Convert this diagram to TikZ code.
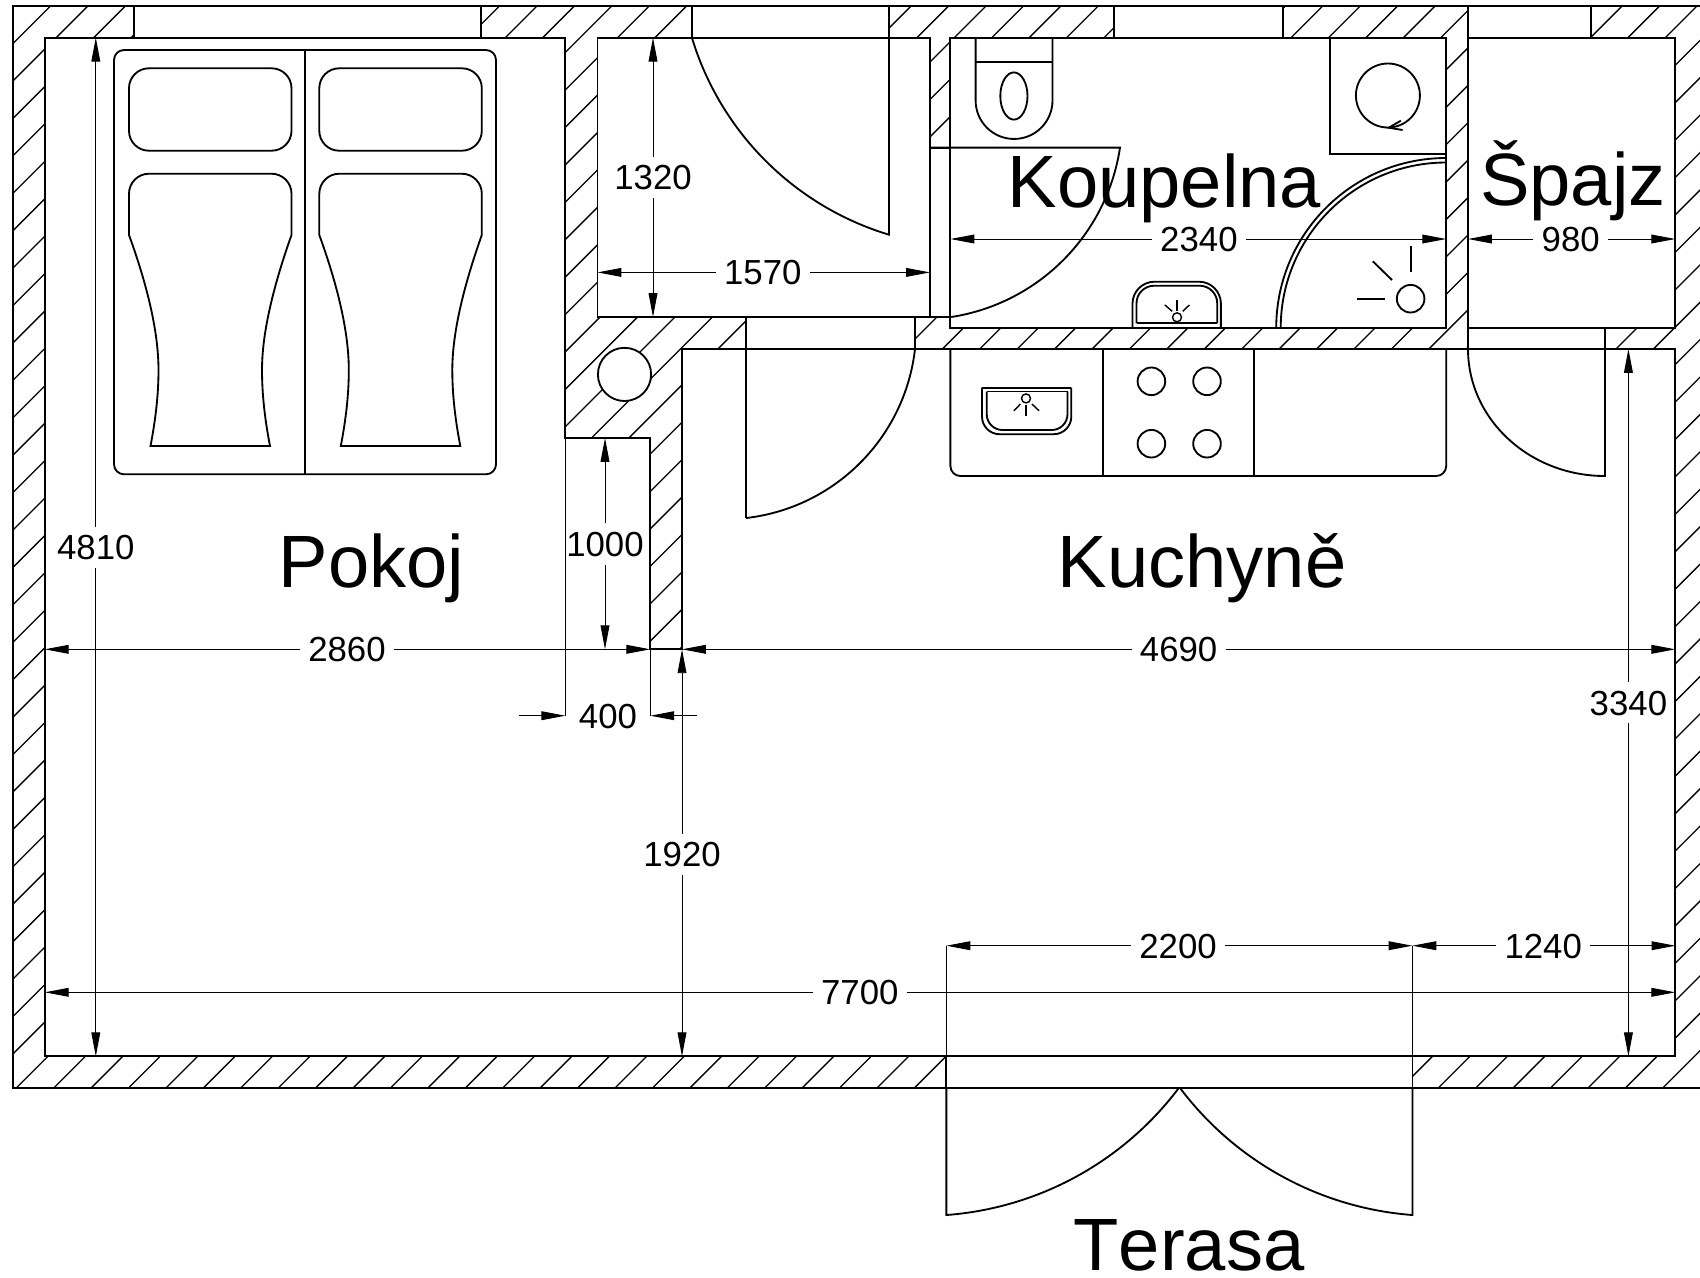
\documentclass[tikz,border=0pt]{standalone}
\usepackage{fontspec}
\setmainfont[Kerning=Off]{Liberation Sans}
\usetikzlibrary{arrows.meta}

\begin{document}
\begin{tikzpicture}[x=0.2mm,y=-0.2mm,line join=miter]
\useasboundingbox (0,0) rectangle (1700,1277);
\tikzset{stena/.style={
           line width=1.05pt,
           }
           }
\tikzset{tenka/.style={
           line width=0.55pt,
           color=black,
           }
           }
\tikzset{pil/.style={
           tenka,
           -{Triangle[length=13.6pt,width=5pt]},
           }
           }
\tikzset{kota/.style={
           font=\fontsize{19.8}{20}\selectfont,
           inner xsep=4.5pt,
           inner ysep=4.5pt,
           text height=14.2pt,
           text depth=0pt,
           }
           }
\tikzset{mistnost/.style={
           font=\fontsize{42.2}{43}\selectfont,
           anchor=base,
           inner sep=0pt,
           }
           }
%==========================================
% hatching of the walls
\begin{scope}
\clip (13,6) rectangle (1710,1088);
\foreach \k in {0,...,75}
  \draw[line width=0.75pt] ({56.5+37.42*\k},0) -- (0,{56.5+37.42*\k});
\end{scope}
\draw[stena] (13,6) rectangle (1710,1088);
%==========================================
% rooms
\draw[stena,fill=white] (44.8,37.7) -- (565.3,37.7) -- (565.3,438) -- (650.3,438) -- (650.3,649.3)
  -- (682,649.3) -- (682,349) -- (1675.3,349) -- (1675.3,1056.3) -- (44.8,1056.3) -- cycle;
\draw[stena,fill=white] (597.5,37.7) rectangle (930,317);
\draw[stena,fill=white] (950.4,37.7) rectangle (1446.2,328);
\draw[stena,fill=white] (1468,37.7) rectangle (1675.3,328);
% windows and openings
\draw[stena,fill=white] (133.6,6) rectangle (481,37.7);
\draw[stena,fill=white] (692,6) rectangle (889,37.7);
\draw[stena,fill=white] (1113.8,6) rectangle (1283.4,37.7);
\draw[stena,fill=white] (1468,6) rectangle (1590.6,37.7);
\draw[stena,fill=white] (930,148) rectangle (950.4,317);
\draw[stena,fill=white] (745.6,317) rectangle (914.8,349);
\draw[stena,fill=white] (1468,328) rectangle (1605,349);
\draw[stena,fill=white] (946.4,1056.3) rectangle (1412.4,1088);
% pipe
\draw[stena,fill=white] (624.5,374.4) circle (26.6);
%==========================================
% doors
\draw[stena] (889,37.7) -- (889,234.7) arc[start angle=106.8,end angle=163.2,radius=295];
\draw[stena] (930,147.6) -- (1120,147.6) arc[start angle=8.6,end angle=81.2,radius=202];
\draw[stena] (745.6,349) -- (745.6,518.2);
\draw[stena] (915,349) arc[start angle=6.5,end angle=83.5,radius=192];
\draw[stena] (1468,349) arc[start angle=180,end angle=90,x radius=137,y radius=127] -- (1605,349);
\draw[stena] (946.4,1088) -- (946.4,1215) arc[start angle=85.7,end angle=37.1,radius=321];
\draw[stena] (1412.4,1088) -- (1412.4,1215) arc[start angle=94.3,end angle=142.9,radius=321];
%==========================================
% bed
\draw[stena,rounded corners=5.7pt] (114,50) rectangle (496,474.3);
\draw[stena] (305.2,50) -- (305.2,474.3);
\foreach \dx in {0,190.3}{
\begin{scope}[shift={(\dx,0)}]
\draw[stena,rounded corners=11.3pt] (129,68.3) rectangle (291.5,150.7);
\draw[stena] (129,235) -- (129,193.7) arc[start angle=180,end angle=270,radius=20]
  -- (271.5,173.7) arc[start angle=270,end angle=360,radius=20] -- (291.5,235)
  .. controls (272,290) and (262,335) .. (262,370)
  .. controls (262,395) and (265,420) .. (270,446)
  -- (150.5,446)
  .. controls (155.5,420) and (158.5,395) .. (158.5,370)
  .. controls (158.5,335) and (149,290) .. (129,235) -- cycle;
\end{scope}
}
%==========================================
% bathroom
\draw[stena] (975.6,37.7) -- (975.6,100.5) arc[start angle=180,end angle=0,radius=38.45] -- (1052.5,37.7);
\draw[stena] (975.6,61.6) -- (1052.5,61.6);
\draw[stena] (1013.9,96) ellipse [x radius=13.6,y radius=23.6];
\draw[stena] (1329.6,37.7) -- (1329.6,154) -- (1446.2,154);
\draw[stena] (1387.9,95.5) circle (32);
\draw[stena] (1400.8,120.7) -- (1388.8,127.7) -- (1402.6,130);
\draw[stena] (1276.2,328) arc[start angle=180,end angle=270,radius=170];
\draw[stena] (1280.7,328) arc[start angle=180,end angle=270,radius=165.5];
\draw[stena] (1410.6,298.7) circle (13.8);
\draw[stena] (1410.6,245.7) -- (1410.6,272);
\draw[stena] (1372.8,261.3) -- (1392,280);
\draw[stena] (1357.2,298.7) -- (1384.5,298.7);
\draw[stena,rounded corners=12.5pt] (1132.5,328) -- (1132.5,281.7) -- (1220.9,281.7) -- (1220.9,328);
\draw[stena,rounded corners=10pt] (1136.5,323.3) -- (1136.5,285.7) -- (1217.2,285.7) -- (1217.2,323.3);
\draw[stena] (1136.5,323.3) -- (1217.2,323.3);
\draw[tenka,line width=0.8pt] (1177,317.3) circle (4.5);
\draw[tenka,line width=0.8pt] (1177,300) -- (1177,310.7);
\draw[tenka,line width=0.8pt] (1164.9,305) -- (1172.2,311.3);
\draw[tenka,line width=0.8pt] (1189.3,305) -- (1182.7,311.3);
%==========================================
% kitchen
\draw[stena,rounded corners=5.7pt] (950.4,349) -- (950.4,476) -- (1446.2,476) -- (1446.2,349);
\draw[stena] (1102.7,349) -- (1102.7,476);
\draw[stena] (1254.3,349) -- (1254.3,476);
\foreach \bx in {1151.4,1207}
  \foreach \by in {381.3,443.7}
    \draw[stena] (\bx,\by) circle (13.8);
\draw[stena,rounded corners=10pt] (982,387.7) -- (982,434.2) -- (1071.3,434.2) -- (1071.3,387.7);
\draw[stena] (982,387.7) -- (1071.3,387.7);
\draw[stena,rounded corners=9pt] (986.7,391.5) -- (986.7,430) -- (1067.5,430) -- (1067.5,391.5);
\draw[stena] (986.7,391.5) -- (1067.5,391.5);
\draw[tenka,line width=0.8pt] (1026,398.4) circle (4.5);
\draw[tenka,line width=0.8pt] (1026,404.6) -- (1026,416);
\draw[tenka,line width=0.8pt] (1020.4,404) -- (1013.9,410.8);
\draw[tenka,line width=0.8pt] (1031.9,404) -- (1039.1,410.8);
%==========================================
% dimensions
\draw[tenka] (565.3,438) -- (565.3,715.7);
\draw[tenka] (650.3,649.3) -- (650.3,715.7);
\draw[tenka] (946.4,945.7) -- (946.4,1056.3);
\draw[tenka] (1412.4,945.7) -- (1412.4,1056.3);
\foreach \name/\xa/\ya/\xb/\yb/\xt/\yt in {
  4810/95.8/37.7/95.8/1056.3/95.8/547.5,
  1320/653/37.7/653/317/653/177.5,
  1570/597.5/272.4/930/272.4/762.8/272.4,
  2340/950.4/239/1446.2/239/1198.9/239,
  980/1468/239/1675.3/239/1570.7/239,
  1000/605/438/605/649.3/605/544,
  2860/44.8/649.3/650.3/649.3/347/649.3,
  4690/682/649.3/1675.3/649.3/1178.6/649.3,
  1920/682/649.3/682/1056.3/682/854.3,
  3340/1628.4/349/1628.4/1056.3/1628.4/702.6,
  7700/44.8/992.3/1675.3/992.3/859.8/992.3,
  2200/946.4/945.7/1412.4/945.7/1178/945.7,
  1240/1412.4/945.7/1675.4/945.7/1543.2/945.7}{
  \coordinate (a\name) at (\xa,\ya);
  \coordinate (b\name) at (\xb,\yb);
  \node[kota] (t\name) at (\xt,\yt) {\name};
  \draw[pil] (t\name) -- (a\name);
  \draw[pil] (t\name) -- (b\name);
}
\coordinate (a400) at (519,715.7);
\coordinate (c400) at (565.3,715.7);
\coordinate (b400) at (696.7,715.7);
\coordinate (d400) at (650.3,715.7);
\node[kota] (t400) at (608,716.5) {400};
\draw[pil] (a400) -- (c400);
\draw[pil] (b400) -- (d400);
%==========================================
\node[mistnost] (pokoj) at (371.5,587.6) {Pokoj};
\node[mistnost] (kuchyne) at (1202,587.6) {Kuchyně};
\node[mistnost] (koupelna) at (1164.5,207.6) {Koupelna};
\node[mistnost] (spajz) at (1573,205.7) {Špajz};
\node[mistnost] (terasa) at (1189,1270) {Terasa};
\end{tikzpicture}
\end{document}
